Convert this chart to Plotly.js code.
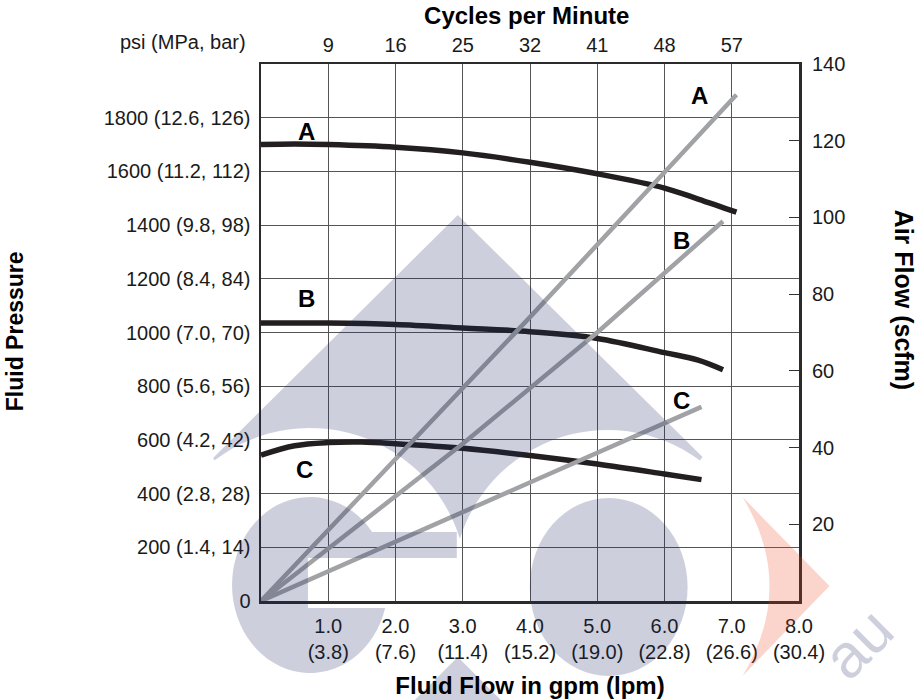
<!DOCTYPE html>
<html>
<head>
<meta charset="utf-8">
<script src="https://cdn.plot.ly/plotly-3.0.1.min.js"></script>
<style>html,body{margin:0;padding:0;background:#fff;}#chart{width:924px;height:700px;}</style>
</head>
<body>
<div id="chart"></div>
<script>
// ---- data ----
const flowTicks = [1, 2, 3, 4, 5, 6, 7, 8];
const gpmLabels = ['1.0', '2.0', '3.0', '4.0', '5.0', '6.0', '7.0', '8.0'];
const lpmLabels = ['(3.8)', '(7.6)', '(11.4)', '(15.2)', '(19.0)', '(22.8)', '(26.6)', '(30.4)'];
const cycleTickPos = [1, 2, 3, 4, 5, 6, 7];
const cycleLabels = ['9', '16', '25', '32', '41', '48', '57'];
const psiTicks = [0, 200, 400, 600, 800, 1000, 1200, 1400, 1600, 1800];
const psiLabels = ['0', '200 (1.4, 14)', '400 (2.8, 28)', '600 (4.2, 42)', '800 (5.6, 56)',
  '1000 (7.0, 70)', '1200 (8.4, 84)', '1400 (9.8, 98)', '1600 (11.2, 112)', '1800 (12.6, 126)'];
const airTicks = [20, 40, 60, 80, 100, 120, 140];

// fluid pressure curves (psi vs gpm)
const pressA_flow = [0, 0.5, 1, 2, 3, 4, 5, 6, 6.5, 7.07];
const pressA_psi  = [1700, 1702, 1700, 1690, 1669, 1634, 1591, 1538, 1497, 1448];
const pressB_flow = [0, 1, 2, 3, 4, 5, 6, 6.5, 6.87];
const pressB_psi  = [1035, 1035, 1030, 1017, 1003, 978, 925, 897, 861];
const pressC_flow = [0, 0.5, 1, 1.5, 2, 3, 4, 5, 6, 6.55];
const pressC_psi  = [543, 578, 590, 592, 586, 569, 542, 510, 473, 452];

// air flow lines (scfm vs gpm)
const airA_flow = [0, 4, 7.07];
const airA_scfm = [0, 74, 132];
const airB_flow = [0, 3, 5, 6.87];
const airB_scfm = [0, 41, 70, 99];
const airC_flow = [0, 6.55];
const airC_scfm = [0, 50.6];

// curve labels
const labelText = ['A', 'B', 'C'];
const pressLabelFlow = [0.68, 0.68, 0.64];
const pressLabelPsi = [1748, 1125, 488];
const airLabelFlow = [6.52, 6.26, 6.25];
const airLabelScfm = [131.7, 94.1, 52.4];

// ---- styling ----
const FONT = '"Liberation Sans", Arial, Helvetica, sans-serif';
const BLACK = '#231f20';
const GREY = '#a1a2a5';
const GRID = '#555555';

const traces = [];
function airTrace(x, y) {
  return {x: x, y: y, xaxis: 'x', yaxis: 'y2', mode: 'lines', line: {color: GREY, width: 4.5},
    hoverinfo: 'skip', showlegend: false};
}
function pressTrace(x, y) {
  return {x: x, y: y, xaxis: 'x', yaxis: 'y', mode: 'lines',
    line: {color: BLACK, width: 5.5, shape: 'spline', smoothing: 1},
    hoverinfo: 'skip', showlegend: false};
}
traces.push(airTrace(airA_flow, airA_scfm));
traces.push(airTrace(airB_flow, airB_scfm));
traces.push(airTrace(airC_flow, airC_scfm));
traces.push(pressTrace(pressA_flow, pressA_psi));
traces.push(pressTrace(pressB_flow, pressB_psi));
traces.push(pressTrace(pressC_flow, pressC_psi));
// carrier for the top (cycles) axis
traces.push({x: cycleTickPos, y: cycleTickPos.map(() => null), xaxis: 'x2', yaxis: 'y',
  mode: 'markers', marker: {opacity: 0}, hoverinfo: 'skip', showlegend: false});

// ---- watermark geometry (pixel -> paper) ----
const PL = 261, PR = 799.5, PT = 64, PB = 601;
const px = v => (v - PL) / (PR - PL);
const py = v => (PB - v) / (PB - PT);
function toPath(pts) {
  return 'M ' + pts.map(p => px(p[0]).toFixed(5) + ',' + py(p[1]).toFixed(5)).join(' L ') + ' Z';
}
function arc(cx, cy, rx, ry, a0, a1, n) {
  const out = [];
  for (let i = 0; i <= n; i++) {
    const a = (a0 + (a1 - a0) * i / n) * Math.PI / 180;
    out.push([cx + rx * Math.cos(a), cy + ry * Math.sin(a)]);
  }
  return out;
}
const deg = (y, x) => Math.atan2(y, x) * 180 / Math.PI;
// big arrow / triangle with two circular bites
const cA = [310, 585, 157], cB = [608, 585, 155];
const d = cB[0] - cA[0];
const aa = (cA[2] * cA[2] - cB[2] * cB[2] + d * d) / (2 * d);
const hh = Math.sqrt(cA[2] * cA[2] - aa * aa);
const ix = cA[0] + aa, iy = cA[1] - hh;
const triPts = [[458, 215], [703, 457]]
  .concat(arc(cB[0], cB[1], cB[2], cB[2], deg(457 - cB[1], 703 - cB[0]), deg(iy - cB[1], ix - cB[0]) , 30))
  .concat(arc(cA[0], cA[1], cA[2], cA[2], deg(iy - cA[1], ix - cA[0]), deg(458 - cA[1], 213 - cA[0]), 30))
  .concat([[213, 458]]);
// G shape
const gPts = [[308, 558], [457, 558], [457, 532]]
  .concat(arc(310, 585, 78, 88, -37.0, 15.15 - 360, 60))
  .concat([[308, 608]]);
// bottom triangle
const botTri = [[458, 657], [520, 719], [396, 719]];
const WM = 'rgb(27,41,95)';
const shapes = [
  {type: 'path', xref: 'paper', yref: 'paper', path: toPath(triPts), fillcolor: WM, opacity: 0.22, line: {width: 0}, layer: 'above'},
  {type: 'path', xref: 'paper', yref: 'paper', path: toPath(gPts), fillcolor: WM, opacity: 0.22, line: {width: 0}, layer: 'above'},
  {type: 'path', xref: 'paper', yref: 'paper', path: toPath(botTri), fillcolor: WM, opacity: 0.22, line: {width: 0}, layer: 'above'},
  {type: 'circle', xref: 'paper', yref: 'paper', x0: px(530), x1: px(688), y0: py(498), y1: py(676), fillcolor: WM, opacity: 0.22, line: {width: 0}, layer: 'above'},
  {type: 'path', xref: 'paper', yref: 'paper',
    path: 'M ' + px(743) + ',' + py(497) + ' L ' + px(830) + ',' + py(586) + ' L ' + px(743) + ',' + py(676) +
      ' Q ' + px(797) + ',' + py(586) + ' ' + px(743) + ',' + py(497) + ' Z',
    fillcolor: 'rgb(236,64,23)', opacity: 0.22, line: {width: 0}, layer: 'above'}
];

// ---- annotations ----
const annotations = [];
for (let i = 0; i < labelText.length; i++) {
  annotations.push({x: pressLabelFlow[i], y: pressLabelPsi[i], xref: 'x', yref: 'y', text: '<b>' + labelText[i] + '</b>',
    showarrow: false, font: {family: FONT, size: 24, color: '#000'}, xanchor: 'center', yanchor: 'middle'});
  annotations.push({x: airLabelFlow[i], y: airLabelScfm[i], xref: 'x', yref: 'y2', text: '<b>' + labelText[i] + '</b>',
    showarrow: false, font: {family: FONT, size: 24, color: '#000'}, xanchor: 'center', yanchor: 'middle'});
}
annotations.push({x: px(248), y: py(42), xref: 'paper', yref: 'paper', text: 'psi (MPa, bar)', showarrow: false,
  xanchor: 'right', yanchor: 'middle', font: {family: FONT, size: 20, color: '#1a1a1a'}});
annotations.push({x: px(15), y: py(331), xref: 'paper', yref: 'paper', text: '<b>Fluid Pressure</b>', showarrow: false,
  textangle: -90, xanchor: 'center', yanchor: 'middle', font: {family: FONT, size: 23, color: '#000'}});
annotations.push({x: px(905), y: py(300), xref: 'paper', yref: 'paper', text: '<b>Air Flow (scfm)</b>', showarrow: false,
  textangle: 90, xanchor: 'center', yanchor: 'middle', font: {family: FONT, size: 25, color: '#000'}});
annotations.push({x: px(858), y: py(643), xref: 'paper', yref: 'paper', text: 'au', showarrow: false,
  textangle: -45, xanchor: 'center', yanchor: 'middle', font: {family: FONT, size: 62, color: 'rgba(27,41,95,0.22)'}});

const layout = {
  width: 924, height: 700,
  margin: {l: 261, r: 124.5, t: 64, b: 99, pad: 0},
  paper_bgcolor: '#ffffff', plot_bgcolor: '#ffffff',
  showlegend: false,
  font: {family: FONT, size: 20, color: '#1a1a1a'},
  title: {text: '<b>Cycles per Minute</b>', font: {family: FONT, size: 24, color: '#000'},
    x: px(527), xref: 'paper', xanchor: 'center', y: 1 - 16 / 700, yref: 'container', yanchor: 'middle'},
  xaxis: {
    range: [0, 8], tickvals: flowTicks, ticktext: gpmLabels.map((g, i) => g + '<br>' + lpmLabels[i]),
    showgrid: true, gridcolor: GRID, gridwidth: 1, zeroline: false,
    showline: true, mirror: true, linecolor: '#2b2b2b', linewidth: 2.5,
    ticks: '', ticklabelstandoff: 5, tickfont: {family: FONT, size: 20, color: '#1a1a1a'},
    title: {text: '<b>Fluid Flow in gpm (lpm)</b>', font: {family: FONT, size: 24, color: '#000'}, standoff: 16},
    automargin: false, fixedrange: true
  },
  xaxis2: {
    overlaying: 'x', side: 'top', range: [0, 8], tickvals: cycleTickPos, ticktext: cycleLabels,
    showgrid: false, zeroline: false, showline: false, ticks: '', ticklabelstandoff: 7,
    tickfont: {family: FONT, size: 20, color: '#1a1a1a'}, automargin: false, fixedrange: true
  },
  yaxis: {
    range: [0, 2000], tickvals: psiTicks, ticktext: psiLabels,
    showgrid: true, gridcolor: GRID, gridwidth: 1, zeroline: false,
    showline: true, mirror: true, linecolor: '#2b2b2b', linewidth: 2.5,
    ticks: '', ticklabelstandoff: 4, tickfont: {family: FONT, size: 20, color: '#1a1a1a'},
    automargin: false, fixedrange: true
  },
  yaxis2: {
    overlaying: 'y', side: 'right', range: [0, 140], tickvals: airTicks,
    showgrid: false, zeroline: false, showline: false,
    ticks: 'inside', ticklen: 10, tickwidth: 1, tickcolor: '#333',
    ticklabelstandoff: 12, tickfont: {family: FONT, size: 20, color: '#1a1a1a'},
    automargin: false, fixedrange: true
  },
  shapes: shapes,
  annotations: annotations
};

Plotly.newPlot('chart', traces, layout, {staticPlot: true, displayModeBar: false});
</script>
</body>
</html>
